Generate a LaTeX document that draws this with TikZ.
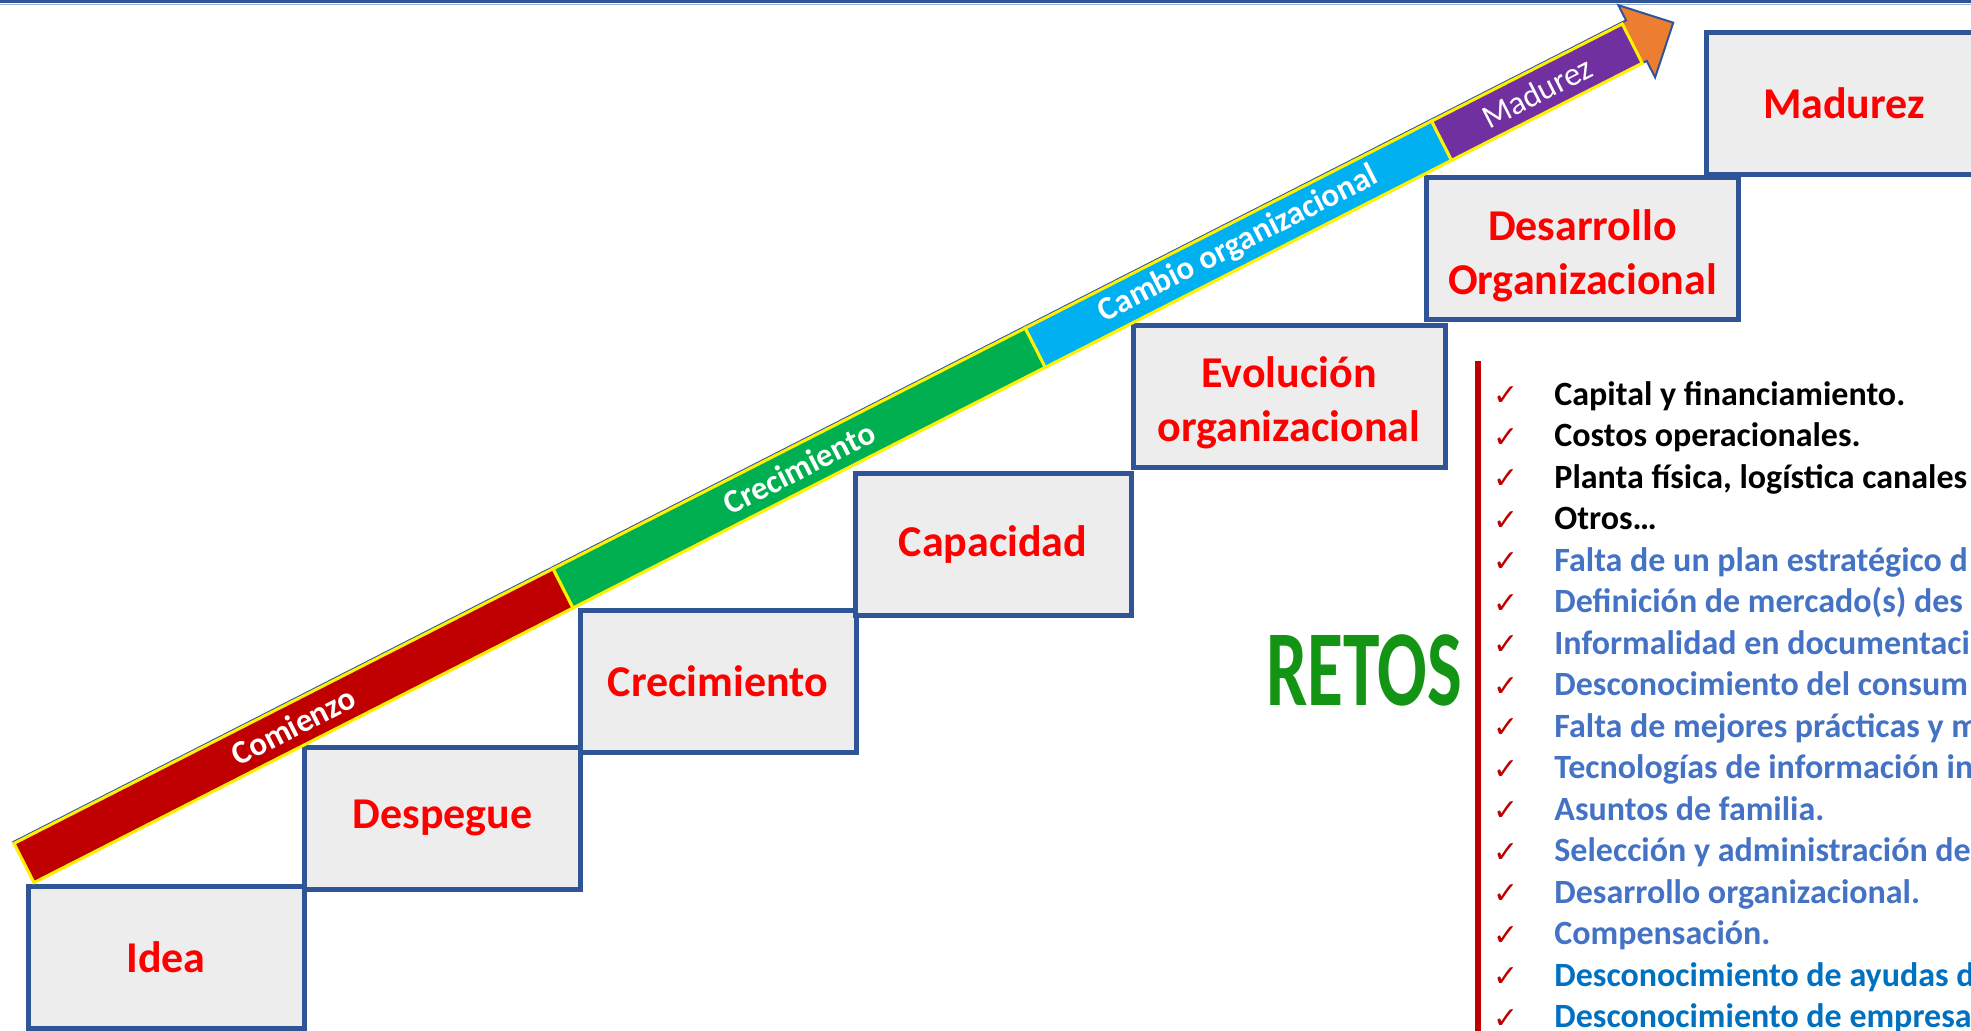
\documentclass[tikz,border=0pt]{standalone}
\usepackage{fontspec}
\setmainfont{Carlito}
\newfontfamily\checkfont{DejaVu Sans}

\definecolor{stepblue}{HTML}{2F5597}
\definecolor{stepgray}{HTML}{EDEDED}
\definecolor{stepred}{HTML}{FF0000}
\definecolor{checkred}{HTML}{C00000}
\definecolor{retosgreen}{HTML}{149414}
\definecolor{retoblue1}{HTML}{4472C4}
\definecolor{retoblue2}{HTML}{0070C0}
\definecolor{phase1}{HTML}{C00000}
\definecolor{phase2}{HTML}{00B050}
\definecolor{phase3}{HTML}{00B0F0}
\definecolor{phase4}{HTML}{7030A0}
\definecolor{phase5}{HTML}{ED7D31}

\tikzstyle{step-box}=[draw=stepblue, line width=2.5pt, fill=stepgray, text=stepred,
    align=center, inner sep=0pt, minimum width=138pt, minimum height=71pt,
    font=\bfseries\fontsize{22}{27}\selectfont]
\tikzstyle{phase-band}=[draw=yellow, line width=1.5pt, text=white, inner sep=0pt,
    minimum height=22pt, transform shape, font=\fontsize{16.5}{18}\selectfont]
\tikzstyle{reto-item}=[anchor=base west, inner sep=0pt, text height=12pt, text depth=3.5pt,
    font=\bfseries\fontsize{17}{20.75}\selectfont]
\tikzstyle{check-mark}=[text=checkred, inner sep=0pt, xshift=-17.3pt,
    font=\checkfont\fontsize{15}{15}\selectfont]

\begin{document}
\begin{tikzpicture}[x=0.5pt, y=-0.5pt]
      \useasboundingbox (0,0) rectangle (1971,1030);
      \clip (0,0) rectangle (1971,1030);
      \fill[white] (0,0) rectangle (1971,1030);
      \draw[stepblue, line width=1.6pt] (0,1.6) -- (1971,1.6);
      \draw[stepblue!45, line width=0.6pt] (0,4.2) -- (1971,4.2);

      \node (idea) at (166,957) [step-box] {Idea};
      \node (despegue) at (442.5,818) [step-box] {Despegue};
      \node (crecimiento) at (718,681) [step-box] {Crecimiento};
      \node (capacidad) at (993,544.5) [step-box] {Capacidad};
      \node (evolucion) at (1289,396.5) [step-box, minimum width=156pt, text height=48.5pt]
            {Evolución\\organizacional};
      \node (desarrollo) at (1582.5,248) [step-box, minimum width=156pt, text height=50.5pt]
            {Desarrollo\\Organizacional};
      \node (madurez) at (1844,103) [step-box] {Madurez};

      \begin{scope}[shift={(24,863)}, rotate=27]
      \draw[stepblue, line width=1pt, fill=phase5]
            (0,-23.5) -- (1810,-23.5) -- (1810,-40.5) -- (1851,0)
            -- (1810,40.5) -- (1810,22) -- (0,22) -- cycle;
      \node (comienzo) at (302.5,0)
            [phase-band, fill=phase1, minimum width=302.5pt] {\bfseries Comienzo};
      \node (crece) at (870,0)
            [phase-band, fill=phase2, minimum width=265pt] {\bfseries Crecimiento};
      \node (cambio) at (1363,0)
            [phase-band, fill=phase3, minimum width=228pt] {\bfseries Cambio organizacional};
      \node (madura) at (1698,0)
            [phase-band, fill=phase4, minimum width=107pt] {Madurez};
      \end{scope}

      \node (retos) at (1364,670) [text=retosgreen, xscale=0.68, transform shape,
            font=\bfseries\fontsize{54}{54}\selectfont] {RETOS};
      \draw[checkred, line width=2.8pt] (1478,361) -- (1478,1032);

      \node (reto1) at (1554,405) [reto-item, label={[check-mark]left:✓}]
            {Capital y financiamiento.};
      \node (reto2) at (1554,446.5) [reto-item, label={[check-mark]left:✓}]
            {Costos operacionales.};
      \node (reto3) at (1554,488) [reto-item, label={[check-mark]left:✓}]
            {Planta física, logística canales};
      \node (reto4) at (1554,529.5) [reto-item, label={[check-mark]left:✓}]
            {Otros…};
      \node (reto5) at (1554,571) [reto-item, text=retoblue1, label={[check-mark]left:✓}]
            {Falta de un plan estratégico d};
      \node (reto6) at (1554,612.5) [reto-item, text=retoblue1, label={[check-mark]left:✓}]
            {Definición de mercado(s) des};
      \node (reto7) at (1554,654) [reto-item, text=retoblue1, label={[check-mark]left:✓}]
            {Informalidad en documentaci};
      \node (reto8) at (1554,695.5) [reto-item, text=retoblue1, label={[check-mark]left:✓}]
            {Desconocimiento del consum};
      \node (reto9) at (1554,737) [reto-item, text=retoblue1, label={[check-mark]left:✓}]
            {Falta de mejores prácticas y m};
      \node (reto10) at (1554,778.5) [reto-item, text=retoblue1, label={[check-mark]left:✓}]
            {Tecnologías de información in};
      \node (reto11) at (1554,820) [reto-item, text=retoblue1, label={[check-mark]left:✓}]
            {Asuntos de familia.};
      \node (reto12) at (1554,861.5) [reto-item, text=retoblue1, label={[check-mark]left:✓}]
            {Selección y administración de};
      \node (reto13) at (1554,903) [reto-item, text=retoblue1, label={[check-mark]left:✓}]
            {Desarrollo organizacional.};
      \node (reto14) at (1554,944.5) [reto-item, text=retoblue1, label={[check-mark]left:✓}]
            {Compensación.};
      \node (reto15) at (1554,986) [reto-item, text=retoblue2, label={[check-mark]left:✓}]
            {Desconocimiento de ayudas d};
      \node (reto16) at (1554,1027.5) [reto-item, text=retoblue2, label={[check-mark]left:✓}]
            {Desconocimiento de empresa};
\end{tikzpicture}
\end{document}
